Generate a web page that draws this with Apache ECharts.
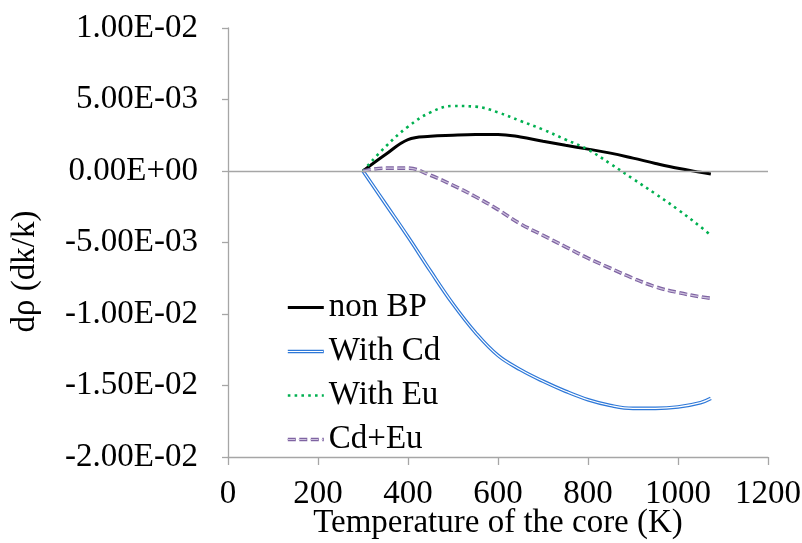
<!DOCTYPE html>
<html>
<head>
<meta charset="utf-8">
<script src="https://cdn.jsdelivr.net/npm/echarts@6/dist/echarts.min.js"></script>
<style>
  html, body { margin: 0; padding: 0; background: #fff; }
  #main { width: 802px; height: 543px; }
</style>
</head>
<body>
<div id="main"></div>
<script>
// temperature of the core (K)
var temps = [300, 350, 400, 450, 500, 550, 600, 650, 700, 750, 800, 850, 900, 950, 1000, 1050, 1073];

// reactivity change dρ (dk/k)
var nonBP  = [0, 0.00115, 0.0022, 0.00243, 0.0025, 0.00255, 0.00256, 0.00238, 0.00208, 0.0018, 0.00153, 0.00125, 0.0009, 0.00053, 0.00019, -0.00009, -0.00021];
var withCd = [0, -0.0023, -0.0046, -0.007, -0.0093, -0.0113, -0.0129, -0.0139, -0.0147, -0.0154, -0.016, -0.0164, -0.0166, -0.0166, -0.0165, -0.0162, -0.0159];
var withEu = [0, 0.0017, 0.0031, 0.0041, 0.00455, 0.0045, 0.0041, 0.0035, 0.0029, 0.0022, 0.0015, 0.0005, -0.00055, -0.0016, -0.0027, -0.0039, -0.0045];
var cdEu   = [0, 0.0002, 0.0002, -0.0003, -0.001, -0.0018, -0.0027, -0.0037, -0.0045, -0.0053, -0.0061, -0.0068, -0.0075, -0.0081, -0.0085, -0.0088, -0.0089];

var serif = "'Liberation Serif', 'Times New Roman', serif";
var fs = 33;

function pairs(ys) {
    return temps.map(function (t, i) { return [t, ys[i]]; });
}

// 1.00E-02 style labels
function sci(v) {
    if (Math.abs(v) < 1e-12) return '0.00E+00';
    var p = v.toExponential(2).split('e');
    var e = parseInt(p[1], 10);
    var a = Math.abs(e);
    return p[0] + 'E' + (e < 0 ? '-' : '+') + (a < 10 ? '0' : '') + a;
}

var legendBase = {
    orient: 'vertical',
    left: 286,
    top: 291,
    padding: 0,
    itemWidth: 36,
    itemHeight: 14,
    itemGap: 11,
    selectedMode: false,
    itemStyle: { opacity: 0 },   // no marker dot, line only
    textStyle: { fontFamily: serif, fontSize: fs, color: '#000' }
};

var option = {
    animation: false,
    backgroundColor: '#fff',
    grid: { left: 228, right: 34, top: 28, bottom: 86, containLabel: false, outerBoundsMode: 'none' },
    legend: [
        Object.assign({}, legendBase, {
            data: [
                { name: 'non BP', lineStyle: { width: 3 } },
                { name: 'With Cd', lineStyle: { width: 3.6 } },
                { name: 'With Eu', lineStyle: { width: 2.6 } },
                { name: 'Cd+Eu', lineStyle: { width: 3.6 } }
            ]
        }),
        // second pass: inner strokes of the double lines
        Object.assign({}, legendBase, {
            z: 10,
            textStyle: { fontFamily: serif, fontSize: fs, color: 'rgba(0,0,0,0)' },
            data: [
                { name: 'non BP', lineStyle: { opacity: 0 } },
                { name: 'With Cd', lineStyle: { color: '#fff', width: 1.2, type: 'solid' } },
                { name: 'With Eu', lineStyle: { opacity: 0 } },
                { name: 'Cd+Eu', lineStyle: { color: '#cdc1de', width: 1.2, type: [8, 3.5] } }
            ]
        })
    ],
    xAxis: {
        type: 'value',
        min: 0,
        max: 1200,
        interval: 200,
        name: 'Temperature of the core (K)',
        nameLocation: 'middle',
        nameGap: 50,
        nameMoveOverlap: false,
        nameTextStyle: { fontFamily: serif, fontSize: fs, color: '#000' },
        axisLine: { onZero: false, lineStyle: { color: '#a6a6a6', width: 1.3 } },
        axisTick: { show: true, inside: false, length: 8, lineStyle: { color: '#a6a6a6', width: 1.3 } },
        axisLabel: { fontFamily: serif, fontSize: fs, color: '#000', margin: 21, formatter: function (v) { return String(v); } },
        splitLine: { show: false }
    },
    yAxis: {
        type: 'value',
        min: -0.02,
        max: 0.01,
        interval: 0.005,
        // title sits a bit below the middle of the axis, as in the original
        name: '{t|dρ (dk/k)}',
        nameLocation: 'middle',
        nameGap: 186,
        nameTextStyle: {
            fontFamily: serif, fontSize: fs, color: '#000',
            rich: { t: { fontFamily: serif, fontSize: fs, color: '#000', padding: [0, 58, 0, 0] } }
        },
        axisLine: { show: true, lineStyle: { color: '#a6a6a6', width: 1.3 } },
        axisTick: { show: true, inside: false, length: 6, lineStyle: { color: '#a6a6a6', width: 1.3 } },
        axisLabel: { fontFamily: serif, fontSize: fs, color: '#000', margin: 30, formatter: sci },
        splitLine: { show: false }
    },
    series: [
        {
            name: 'non BP', type: 'line', data: pairs(nonBP), smooth: 0.4,
            symbol: 'none', color: '#000',
            lineStyle: { color: '#000', width: 3 },
            markLine: {
                silent: true, symbol: 'none', label: { show: false },
                lineStyle: { color: '#a6a6a6', width: 1.3, type: 'solid' },
                data: [{ yAxis: 0 }]
            }
        },
        {
            name: 'With Cd', type: 'line', data: pairs(withCd), smooth: 0.4,
            symbol: 'none', color: '#2e78d8',
            lineStyle: { color: '#2e78d8', width: 3.6 }
        },
        {
            name: 'With Cd', type: 'line', data: pairs(withCd), smooth: 0.4,
            symbol: 'none', color: '#fff',
            lineStyle: { color: '#fff', width: 1.2 }
        },
        {
            name: 'With Eu', type: 'line', data: pairs(withEu), smooth: 0.4,
            symbol: 'none', color: '#00b050',
            lineStyle: { color: '#00b050', width: 2.6, type: [2.6, 4.2] }
        },
        {
            name: 'Cd+Eu', type: 'line', data: pairs(cdEu), smooth: 0.4,
            symbol: 'none', color: '#7f64a2',
            lineStyle: { color: '#7f64a2', width: 3.6, type: [8, 3.5] }
        },
        {
            name: 'Cd+Eu', type: 'line', data: pairs(cdEu), smooth: 0.4,
            symbol: 'none', color: '#cdc1de',
            lineStyle: { color: '#cdc1de', width: 1.2, type: [8, 3.5] }
        }
    ]
};

var chart = echarts.init(document.getElementById('main'));
chart.setOption(option);
</script>
</body>
</html>
